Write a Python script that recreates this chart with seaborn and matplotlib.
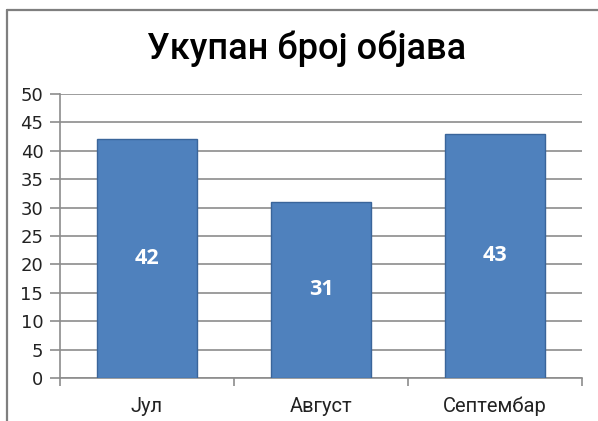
import matplotlib
matplotlib.use("Agg")
import matplotlib.pyplot as plt
import seaborn as sns
import pandas as pd
from matplotlib.lines import Line2D

# podaci
meseci = ["Јул", "Август", "Септембар"]
objave = [42, 31, 43]
naslov = "Укупан број објава"

df = pd.DataFrame({"mesec": meseci, "broj": objave})

sns.set_style("white")
plt.rcParams['font.family'] = ['DejaVu Sans']

fig = plt.figure(figsize=(5.98, 4.21), dpi=100)
ax = fig.add_axes([0.1003, 0.1021, 0.8729, 0.6746])

sns.barplot(data=df, x="mesec", y="broj", color="#4F81BD", saturation=1,
            width=0.575, edgecolor="#3A659A", linewidth=1.0, ax=ax, zorder=3)

# vrednosti u sredini stubica
for p, v in zip(ax.patches, objave):
    ax.text(p.get_x() + p.get_width() / 2, p.get_height() / 2, str(v),
            ha="center", va="center", color="white", fontsize=15.5,
            fontweight="bold", family=["Open Sans", "DejaVu Sans"], zorder=4)

ax.set_ylim(0, 50)
ax.set_yticks(range(0, 51, 5))
ax.set_xlim(-0.5, 2.5)
ax.yaxis.grid(True, color="#8C8C8C", linewidth=1.2, zorder=0)
ax.set_axisbelow(True)
ax.set_xlabel("")
ax.set_ylabel("")

for s in ["top", "right"]:
    ax.spines[s].set_visible(False)
for s in ["left", "bottom"]:
    ax.spines[s].set_color("#8C8C8C")
    ax.spines[s].set_linewidth(1.2)

ax.tick_params(axis="y", left=True, length=7, width=1.2, color="#8C8C8C",
               labelsize=13, pad=5, labelcolor="#222222")
ax.set_xticks([0, 1, 2])
ax.set_xticklabels(meseci, family=["Roboto", "DejaVu Sans"], fontsize=14.5)
ax.tick_params(axis="x", bottom=False, pad=10, labelcolor="#222222")
# podeoci izmedju kategorija
ax.set_xticks([-0.5, 0.5, 1.5, 2.5], minor=True)
ax.tick_params(axis="x", which="minor", bottom=True, length=6, width=1.2,
               color="#8C8C8C")

fig.text(0.512, 0.885, naslov, ha="center", va="center", fontsize=26,
         fontweight="medium", family=["Roboto", "DejaVu Sans"], color="black")

# okvir grafikona
fig.add_artist(Line2D([7 / 598, 7 / 598], [0, 1 - 10 / 421],
                      transform=fig.transFigure, color="#7F7F7F", linewidth=1.6))
fig.add_artist(Line2D([7 / 598, 1], [1 - 10 / 421, 1 - 10 / 421],
                      transform=fig.transFigure, color="#7F7F7F", linewidth=1.6))

fig.savefig("out.png", dpi=100)
